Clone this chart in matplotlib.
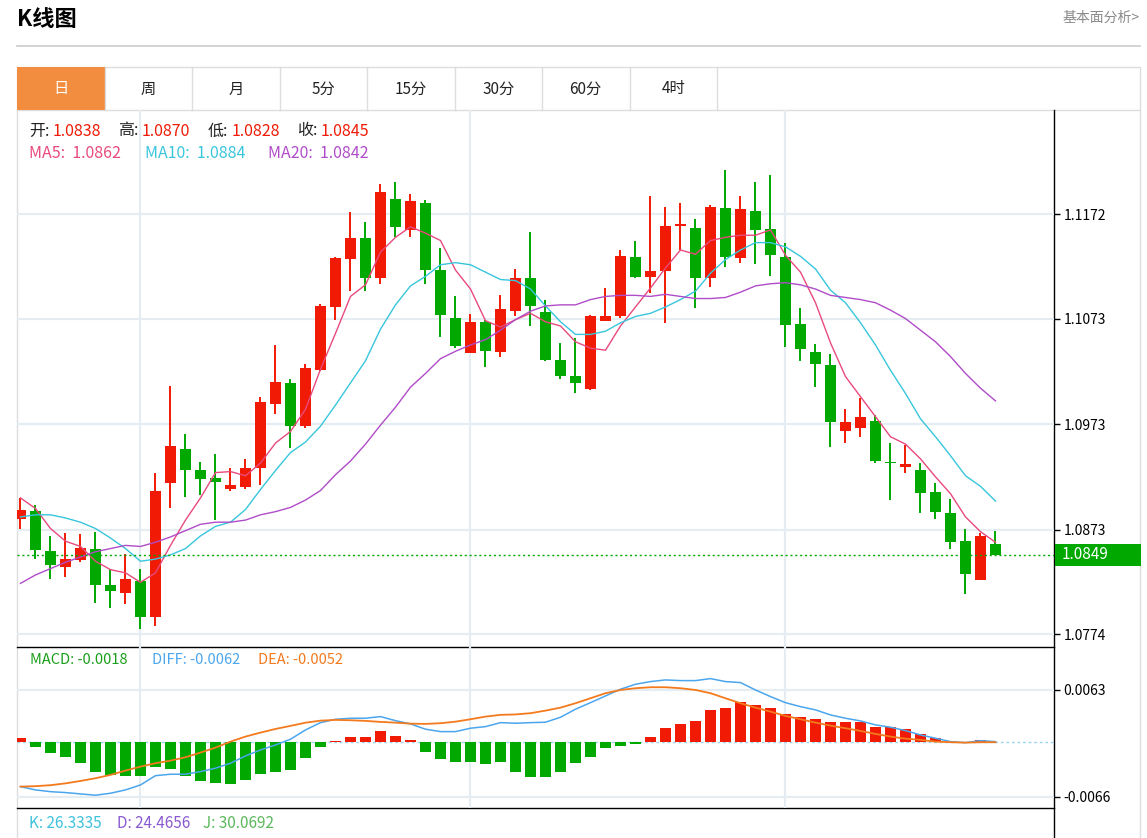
import matplotlib
matplotlib.use('Agg')
import matplotlib.pyplot as plt
import matplotlib.transforms as mtransforms
from matplotlib.patches import Rectangle
import numpy as np

plt.rcParams['font.family'] = ['Noto Sans CJK SC', 'DejaVu Sans']

# daily candles (open, high, low, close)
opens = [1.0883, 1.0891, 1.0853, 1.0838, 1.0844, 1.0855, 1.0820, 1.0813, 1.0824, 1.0790,
         1.0917, 1.0949, 1.0929, 1.0922, 1.0911, 1.0913, 1.0931, 1.0992, 1.1012, 1.0971,
         1.1024, 1.1084, 1.1129, 1.1149, 1.1111, 1.1186, 1.1157, 1.1183, 1.1119, 1.1074,
         1.1040, 1.1070, 1.1041, 1.1080, 1.1111, 1.1079, 1.1034, 1.1019, 1.1006, 1.1071,
         1.1075, 1.1131, 1.1112, 1.1118, 1.1161, 1.1159, 1.1111, 1.1178, 1.1130, 1.1175,
         1.1158, 1.1131, 1.1068, 1.1041, 1.1029, 1.0966, 1.0969, 1.0976, 1.0937, 1.0932,
         1.0929, 1.0909, 1.0889, 1.0862, 1.0825, 1.0859]
highs = [1.0903, 1.0896, 1.0867, 1.0870, 1.0869, 1.0871, 1.0836, 1.0850, 1.0836, 1.0927,
         1.1009, 1.0964, 1.0937, 1.0945, 1.0931, 1.0940, 1.0999, 1.1048, 1.1016, 1.1030,
         1.1087, 1.1131, 1.1174, 1.1165, 1.1201, 1.1202, 1.1191, 1.1185, 1.1140, 1.1094,
         1.1077, 1.1072, 1.1095, 1.1120, 1.1155, 1.1091, 1.1050, 1.1055, 1.1076, 1.1102,
         1.1138, 1.1147, 1.1189, 1.1179, 1.1183, 1.1167, 1.1181, 1.1214, 1.1189, 1.1202,
         1.1209, 1.1145, 1.1083, 1.1049, 1.1039, 1.0987, 1.0998, 1.0982, 1.0955, 1.0953,
         1.0936, 1.0917, 1.0902, 1.0874, 1.0870, 1.0872]
lows = [1.0874, 1.0845, 1.0826, 1.0828, 1.0842, 1.0803, 1.0799, 1.0802, 1.0779, 1.0782,
        1.0893, 1.0904, 1.0906, 1.0882, 1.0910, 1.0911, 1.0915, 1.0983, 1.0950, 1.0969,
        1.1023, 1.1072, 1.1099, 1.1099, 1.1106, 1.1150, 1.1150, 1.1106, 1.1056, 1.1045,
        1.1040, 1.1027, 1.1037, 1.1075, 1.1066, 1.1033, 1.1016, 1.1002, 1.1005, 1.1071,
        1.1074, 1.1111, 1.1097, 1.1069, 1.1138, 1.1083, 1.1103, 1.1122, 1.1126, 1.1125,
        1.1113, 1.1046, 1.1033, 1.1008, 1.0951, 1.0955, 1.0961, 1.0936, 1.0901, 1.0927,
        1.0889, 1.0883, 1.0855, 1.0812, 1.0825, 1.0849]
closes = [1.0892, 1.0854, 1.0839, 1.0845, 1.0856, 1.0820, 1.0815, 1.0826, 1.0790, 1.0910,
          1.0952, 1.0929, 1.0921, 1.0918, 1.0915, 1.0931, 1.0994, 1.1013, 1.0971, 1.1026,
          1.1085, 1.1130, 1.1149, 1.1111, 1.1193, 1.1160, 1.1184, 1.1119, 1.1076, 1.1047,
          1.1070, 1.1042, 1.1082, 1.1111, 1.1085, 1.1034, 1.1019, 1.1012, 1.1075, 1.1075,
          1.1132, 1.1112, 1.1118, 1.1161, 1.1163, 1.1111, 1.1179, 1.1131, 1.1177, 1.1157,
          1.1133, 1.1067, 1.1044, 1.1030, 1.0975, 1.0975, 1.0980, 1.0938, 1.0936, 1.0935,
          1.0908, 1.0890, 1.0861, 1.0831, 1.0867, 1.0849]

ma5 = [1.0903, 1.0893, 1.0874, 1.0862, 1.0857, 1.0843, 1.0835, 1.0832, 1.0823, 1.0832,
       1.0858, 1.0882, 1.0903, 1.0927, 1.0928, 1.0924, 1.0936, 1.0955, 1.0966, 1.0987,
       1.1025, 1.1059, 1.1094, 1.1105, 1.1136, 1.1150, 1.1160, 1.1154, 1.1147, 1.1119,
       1.1101, 1.1071, 1.1065, 1.1072, 1.1078, 1.1070, 1.1066, 1.1051, 1.1045, 1.1043,
       1.1066, 1.1084, 1.1102, 1.1121, 1.1138, 1.1134, 1.1147, 1.1150, 1.1152, 1.1152,
       1.1157, 1.1133, 1.1117, 1.1088, 1.1050, 1.1018, 1.0999, 1.0980, 1.0961, 1.0954,
       1.0940, 1.0923, 1.0907, 1.0885, 1.0871, 1.0861]
ma10 = [1.0885, 1.0887, 1.0887, 1.0884, 1.0880, 1.0874, 1.0865, 1.0855, 1.0843, 1.0845,
        1.0849, 1.0855, 1.0867, 1.0876, 1.0880, 1.0892, 1.0911, 1.0929, 1.0946, 1.0956,
        1.0971, 1.0991, 1.1012, 1.1033, 1.1063, 1.1086, 1.1104, 1.1113, 1.1124, 1.1126,
        1.1124, 1.1117, 1.1110, 1.1109, 1.1101, 1.1085, 1.1070, 1.1058, 1.1058, 1.1061,
        1.1069, 1.1075, 1.1078, 1.1084, 1.1091, 1.1099, 1.1116, 1.1129, 1.1138, 1.1145,
        1.1145, 1.1141, 1.1132, 1.1120, 1.1100, 1.1088, 1.1069, 1.1048, 1.1024, 1.1002,
        1.0978, 1.0961, 1.0943, 1.0924, 1.0914, 1.0900]
ma20 = [1.0822, 1.0830, 1.0836, 1.0842, 1.0847, 1.0852, 1.0855, 1.0858, 1.0857, 1.0861,
        1.0866, 1.0872, 1.0878, 1.0880, 1.0880, 1.0882, 1.0887, 1.0890, 1.0894, 1.0901,
        1.0910, 1.0925, 1.0938, 1.0954, 1.0972, 1.0989, 1.1008, 1.1021, 1.1035, 1.1042,
        1.1048, 1.1053, 1.1062, 1.1072, 1.1080, 1.1085, 1.1086, 1.1086, 1.1091, 1.1094,
        1.1095, 1.1095, 1.1094, 1.1096, 1.1094, 1.1092, 1.1092, 1.1093, 1.1098, 1.1104,
        1.1106, 1.1107, 1.1105, 1.1101, 1.1095, 1.1093, 1.1091, 1.1088, 1.1081, 1.1073,
        1.1062, 1.1051, 1.1037, 1.1021, 1.1007, 1.0995]

# MACD panel
diff = [-0.00535, -0.00575, -0.00596, -0.00607, -0.00623, -0.00639, -0.00615, -0.00575, -0.00515, -0.00403,
        -0.00386, -0.00386, -0.00354, -0.00313, -0.00253, -0.00165, -0.00093, -0.00033, 0.00036, 0.00148,
        0.00236, 0.00277, 0.00289, 0.00289, 0.00309, 0.00260, 0.00221, 0.00157, 0.00128, 0.00128,
        0.00169, 0.00188, 0.00236, 0.00229, 0.00236, 0.00241, 0.00301, 0.00398, 0.00477, 0.00558,
        0.00639, 0.00699, 0.00731, 0.00751, 0.00743, 0.00743, 0.00767, 0.00731, 0.00719, 0.00630,
        0.00550, 0.00477, 0.00429, 0.00390, 0.00329, 0.00289, 0.00257, 0.00209, 0.00181, 0.00140,
        0.00088, 0.00048, 0.00007, -0.00005, 0.00019, 0.00007]
dea = [-0.00535, -0.00530, -0.00518, -0.00496, -0.00467, -0.00434, -0.00394, -0.00342, -0.00294, -0.00253,
       -0.00222, -0.00181, -0.00125, -0.00065, 0.00007, 0.00068, 0.00116, 0.00160, 0.00197, 0.00236,
       0.00260, 0.00269, 0.00265, 0.00257, 0.00245, 0.00236, 0.00224, 0.00221, 0.00229, 0.00248,
       0.00277, 0.00309, 0.00330, 0.00335, 0.00350, 0.00381, 0.00417, 0.00470, 0.00530, 0.00591,
       0.00630, 0.00651, 0.00663, 0.00663, 0.00651, 0.00630, 0.00591, 0.00530, 0.00470, 0.00417,
       0.00369, 0.00317, 0.00277, 0.00236, 0.00200, 0.00169, 0.00136, 0.00100, 0.00068, 0.00043,
       0.00028, 0.00007, 0.00000, -0.00005, 0.00000, 0.00000]
macd_hist = [0.00048, -0.00053, -0.00125, -0.00180, -0.00253, -0.00354, -0.00394, -0.00406, -0.00406, -0.00294,
             -0.00318, -0.00406, -0.00463, -0.00494, -0.00499, -0.00454, -0.00382, -0.00358, -0.00330, -0.00193,
             -0.00060, 0.00019, 0.00060, 0.00064, 0.00140, 0.00076, 0.00028, -0.00113, -0.00201, -0.00241,
             -0.00237, -0.00262, -0.00237, -0.00354, -0.00422, -0.00422, -0.00354, -0.00253, -0.00174, -0.00065,
             -0.00050, -0.00020, 0.00068, 0.00169, 0.00217, 0.00260, 0.00390, 0.00410, 0.00486, 0.00450,
             0.00410, 0.00341, 0.00301, 0.00277, 0.00248, 0.00248, 0.00248, 0.00188, 0.00181, 0.00157,
             0.00096, 0.00055, 0.00016, -0.00003, 0.00030, 0.00007]

price_ticks = [1.1172, 1.1073, 1.0973, 1.0873, 1.0774]
macd_ticks = [0.0063, -0.0066]
macd_labels = {'MACD': '-0.0018', 'DIFF': '-0.0062', 'DEA': '-0.0052'}
tabs = ['日', '周', '月', '5分', '15分', '30分', '60分', '4时']
kdj = {'K': '26.3335', 'D': '24.4656', 'J': '30.0692'}
info_idx = 3

RED = '#f01a05'
GREEN = '#00a800'
GRID = '#e6edf2'
C_MA5, C_MA10, C_MA20 = '#e84a7c', '#38c6dc', '#b04cc8'
C_DIFF, C_DEA = '#4ba6ee', '#f47a1e'

W, H = 1147, 838
fig = plt.figure(figsize=(W / 100, H / 100), dpi=100)

# page decorations in pixel coordinates
bg = fig.add_axes([0, 0, 1, 1])
bg.set_xlim(0, W)
bg.set_ylim(H, 0)
bg.axis('off')

x = np.arange(len(closes))
xlim = (-0.233, 68.9)

# ---- price panel
ax = fig.add_axes([17 / W, (H - 647) / H, 1037 / W, 537 / H])
ax.patch.set_alpha(0)
ax.set_xlim(*xlim)
ax.set_ylim(1.07617, 1.12707)
for s in ax.spines.values():
    s.set_visible(False)
ax.set_xticks([])
ax.yaxis.tick_right()
ax.set_yticks(price_ticks)
ax.set_yticklabels(['%.4f' % t for t in price_ticks])
ax.tick_params(axis='y', length=4, width=1, labelsize=10, pad=3, colors='black')
for t in price_ticks:
    ax.axhline(t, color=GRID, lw=1.6, zorder=0)
for c in [8, 30, 51]:
    ax.axvline(c, color=GRID, lw=1.6, zorder=0)

for i in range(len(closes)):
    col = RED if closes[i] >= opens[i] else GREEN
    ax.vlines(i, lows[i], highs[i], color=col, lw=1.4, zorder=2)
    h = max(abs(closes[i] - opens[i]), 0.00008)
    ax.bar(i, h, bottom=min(opens[i], closes[i]), width=0.74, color=col, zorder=3)

ax.plot(x, ma5, color=C_MA5, lw=1.0, zorder=4)
ax.plot(x, ma10, color=C_MA10, lw=1.0, zorder=4)
ax.plot(x, ma20, color=C_MA20, lw=1.0, zorder=4)

last = closes[-1]
ax.axhline(last, color=GREEN, lw=1, ls=(0, (1.5, 2)), zorder=5)
trans = mtransforms.blended_transform_factory(ax.transAxes, ax.transData)
ax.add_patch(Rectangle((1.001, last - 0.00108), 86 / 1037, 0.00216, transform=trans,
                       facecolor=GREEN, edgecolor='none', clip_on=False, zorder=6))
ax.text(1.0 + 8 / 1037, last, '%.4f' % last, transform=trans, color='white',
        fontsize=11, va='center', ha='left', zorder=7)

# ---- MACD panel
ax2 = fig.add_axes([17 / W, (H - 808) / H, 1037 / W, 161 / H])
ax2.patch.set_alpha(0)
ax2.set_xlim(*xlim)
ax2.set_ylim(-0.00793, 0.01148)
for s in ax2.spines.values():
    s.set_visible(False)
ax2.set_xticks([])
ax2.yaxis.tick_right()
ax2.set_yticks(macd_ticks)
ax2.set_yticklabels(['%.4f' % t for t in macd_ticks])
ax2.tick_params(axis='y', length=4, width=1, labelsize=10, pad=3, colors='black')
for t in macd_ticks:
    ax2.axhline(t, color=GRID, lw=1.6, zorder=0)
for c in [8, 30, 51]:
    ax2.axvline(c, color=GRID, lw=1.6, zorder=0)
ax2.axhline(0, color='#9ad6ee', lw=1, ls=(0, (2, 2)), zorder=1)
hist_colors = [RED if v >= 0 else GREEN for v in macd_hist]
ax2.bar(x, macd_hist, width=0.72, color=hist_colors, zorder=2)
ax2.plot(x, diff, color=C_DIFF, lw=1.1, zorder=3)
ax2.plot(x, dea, color=C_DEA, lw=1.3, zorder=3)

# header, tabs and frame
bg.text(17, 20, 'K线图', fontsize=16, fontweight='bold', va='center', ha='left')
bg.text(1140, 18, '基本面分析>', fontsize=10, color='#8a8a8a', va='center', ha='right')
bg.plot([17, 1140], [46, 46], color='#cccccc', lw=1.2)
bg.add_patch(Rectangle((17, 67), 1123, 43, facecolor='white', edgecolor='#dddddd', lw=1))
tab_w = 87.5
for i, t in enumerate(tabs):
    x0 = 17 + i * tab_w
    if i == 0:
        bg.add_patch(Rectangle((x0, 67), tab_w, 43, facecolor='#f28c3e', edgecolor='none'))
    bg.plot([x0 + tab_w, x0 + tab_w], [67, 110], color='#dddddd', lw=1)
    bg.text(x0 + tab_w / 2, 89, t, fontsize=11, va='center', ha='center',
            color='white' if i == 0 else '#222222')
bg.plot([17, 17], [110, 838], color='#dddddd', lw=1)
bg.plot([1140, 1140], [110, 838], color='#dddddd', lw=1)
bg.plot([1054, 1054], [110, 838], color='black', lw=1)
bg.plot([17, 1054], [647, 647], color='black', lw=1)
bg.plot([17, 1054], [808, 808], color='black', lw=1)

# info text for the hovered candle
fs = 11.5
row1 = [('开:', 29, opens), ('高:', 118, highs), ('低:', 208, lows), ('收:', 297, closes)]
for lab, x0, arr in row1:
    bg.text(x0, 131, lab, fontsize=fs, va='center', color='#222222')
    bg.text(x0 + 24, 131, '%.4f' % arr[info_idx], fontsize=fs, va='center', color=RED)
bg.text(29, 154, 'MA5:  %.4f' % ma5[info_idx], fontsize=fs, va='center', color=C_MA5)
bg.text(145, 154, 'MA10:  %.4f' % ma10[info_idx], fontsize=fs, va='center', color=C_MA10)
bg.text(268, 154, 'MA20:  %.4f' % ma20[info_idx], fontsize=fs, va='center', color=C_MA20)

bg.text(30, 660, 'MACD: ' + macd_labels['MACD'], fontsize=10.5, va='center', color='#1a9e1a')
bg.text(152, 660, 'DIFF: ' + macd_labels['DIFF'], fontsize=10.5, va='center', color=C_DIFF)
bg.text(258, 660, 'DEA: ' + macd_labels['DEA'], fontsize=10.5, va='center', color=C_DEA)

bg.text(29, 823, 'K: ' + kdj['K'], fontsize=11, va='center', color='#3ec2dc')
bg.text(117, 823, 'D: ' + kdj['D'], fontsize=11, va='center', color='#8a5ad0')
bg.text(203, 823, 'J: ' + kdj['J'], fontsize=11, va='center', color='#5cb85c')

fig.savefig('out.png', dpi=100)
